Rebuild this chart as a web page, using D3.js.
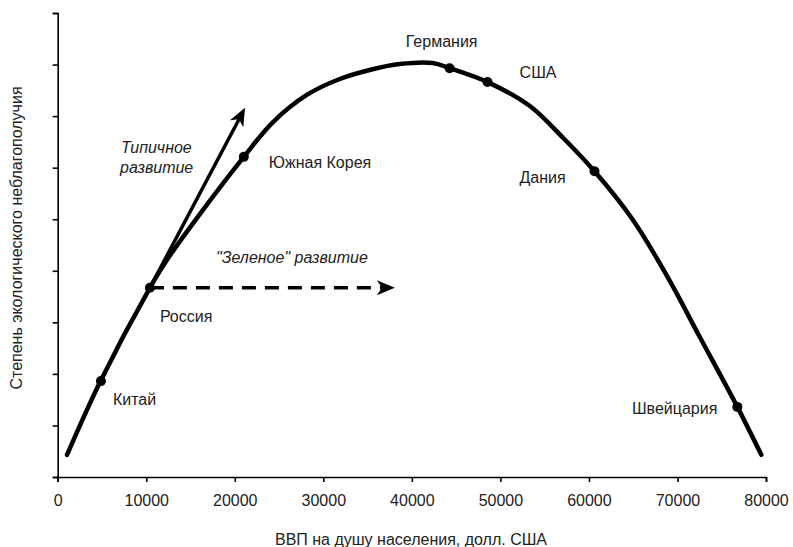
<!DOCTYPE html>
<html>
<head>
<meta charset="utf-8">
<script src="https://cdn.jsdelivr.net/npm/d3@7/dist/d3.min.js"></script>
<style>
  body { margin: 0; background: #fff; }
  text { font-family: "Liberation Sans", Arial, sans-serif; fill: #222; }
</style>
</head>
<body>
<svg id="chart" width="793" height="547"></svg>
<script>
// ---- data ----
const curveX = [1050, 4773, 10414, 12333, 16057, 21021, 24293, 28130, 31853, 35577, 38624, 42348, 44266, 48554, 53293, 57017, 60628, 64916, 68753, 72477, 76764, 79472];
const curveY = [0.43, 1.84, 3.67, 4.21, 5.10, 6.21, 6.88, 7.41, 7.72, 7.91, 8.01, 8.03, 7.93, 7.66, 7.20, 6.59, 5.93, 5.00, 3.92, 2.73, 1.36, 0.43];
const countries = ["Китай", "Россия", "Южная Корея", "Германия", "США", "Дания", "Швейцария"];
const countryX = [4886, 10414, 21021, 44266, 48554, 60628, 76764];
const countryY = [1.86, 3.67, 6.21, 7.93, 7.66, 5.93, 1.36];
const xTicks = [0, 10000, 20000, 30000, 40000, 50000, 60000, 70000, 80000];
const yTicks = [0, 1, 2, 3, 4, 5, 6, 7, 8, 9];
const typicalArrow = { from: [10414, 3.67], to: [21158, 7.16] };
const greenArrow = { from: [10414, 3.67], to: [38083, 3.67] };
const xTitle = "ВВП на душу населения, долл. США";
const yTitle = "Степень экологического неблагополучия";

// ---- layout ----
const svg = d3.select("#chart");
const x = d3.scaleLinear().domain([0, 80000]).range([57.7, 766]);
const y = d3.scaleLinear().domain([0, 9]).range([477, 13]);

// axes
const gx = svg.append("g").attr("transform", "translate(0,477)")
  .call(d3.axisBottom(x).tickValues(xTicks).tickFormat(d => String(d)).tickSize(5).tickPadding(13));
const gy = svg.append("g").attr("transform", "translate(57.7,0)")
  .call(d3.axisLeft(y).tickValues(yTicks).tickFormat("").tickSize(5));
[gx, gy].forEach(g => {
  g.selectAll("path, line").attr("stroke", "#000").attr("stroke-width", 1.6);
  g.selectAll("text").style("font-size", "16px").attr("fill", "#222")
   .style("font-family", "'Liberation Sans', Arial, sans-serif");
});

// titles
svg.append("text").attr("x", 411).attr("y", 545).attr("text-anchor", "middle")
  .style("font-size", "16px").text(xTitle);
svg.append("text").attr("transform", "translate(22,238) rotate(-90)").attr("text-anchor", "middle")
  .style("font-size", "16px").text(yTitle);

// curve
const pts = curveX.map((v, i) => [v, curveY[i]]);
const line = d3.line().x(d => x(d[0])).y(d => y(d[1])).curve(d3.curveCatmullRom.alpha(0.5));
svg.append("path").datum(pts).attr("d", line)
  .attr("fill", "none").attr("stroke", "#000").attr("stroke-width", 4.5)
  .attr("stroke-linejoin", "round").attr("stroke-linecap", "round");

// arrows
function arrowHead(x1, y1, x2, y2, len, halfW, notch) {
  const a = Math.atan2(y2 - y1, x2 - x1);
  const c = Math.cos(a), s = Math.sin(a);
  const p = (u, v) => [x2 + u * c - v * s, y2 + u * s + v * c];
  const pts = [p(0, 0), p(-len, -halfW), p(-len + notch, 0), p(-len, halfW)];
  return "M" + pts.map(q => q.join(",")).join("L") + "Z";
}
function drawArrow(a, dashed) {
  const x1 = x(a.from[0]), y1 = y(a.from[1]), x2 = x(a.to[0]), y2 = y(a.to[1]);
  const ang = Math.atan2(y2 - y1, x2 - x1);
  const back = 12;
  svg.append("line").attr("x1", x1).attr("y1", y1)
    .attr("x2", x2 - back * Math.cos(ang)).attr("y2", y2 - back * Math.sin(ang))
    .attr("stroke", "#000").attr("stroke-width", 3.5)
    .attr("stroke-dasharray", dashed ? "14,9" : null);
  svg.append("path").attr("d", arrowHead(x1, y1, x2, y2, 18, 7.5, 5)).attr("fill", "#000");
}
drawArrow(typicalArrow, false);
drawArrow(greenArrow, true);

// markers
svg.selectAll("circle.pt").data(countries).enter().append("circle")
  .attr("cx", (d, i) => x(countryX[i])).attr("cy", (d, i) => y(countryY[i]))
  .attr("r", 5).attr("fill", "#000");

// country labels (offsets from marker in px)
const labelOffset = {
  "Китай": [12, 24, "start"],
  "Россия": [10, 34, "start"],
  "Южная Корея": [25, 11, "start"],
  "Германия": [-8, -21, "middle"],
  "США": [32, -4, "start"],
  "Дания": [-75, 12, "start"],
  "Швейцария": [-20, 7, "end"]
};
svg.selectAll("text.lbl").data(countries).enter().append("text")
  .attr("class", "lbl")
  .attr("x", (d, i) => x(countryX[i]) + labelOffset[d][0])
  .attr("y", (d, i) => y(countryY[i]) + labelOffset[d][1])
  .attr("text-anchor", d => labelOffset[d][2])
  .style("font-size", "16px").text(d => d);

// annotation labels
svg.append("text").attr("x", 121).attr("y", 153).style("font-size", "16px").style("font-style", "italic").text("Типичное");
svg.append("text").attr("x", 120).attr("y", 173).style("font-size", "16px").style("font-style", "italic").text("развитие");
svg.append("text").attr("x", 216).attr("y", 263).style("font-size", "16px").style("font-style", "italic").text("\"Зеленое\" развитие");
</script>
</body>
</html>
